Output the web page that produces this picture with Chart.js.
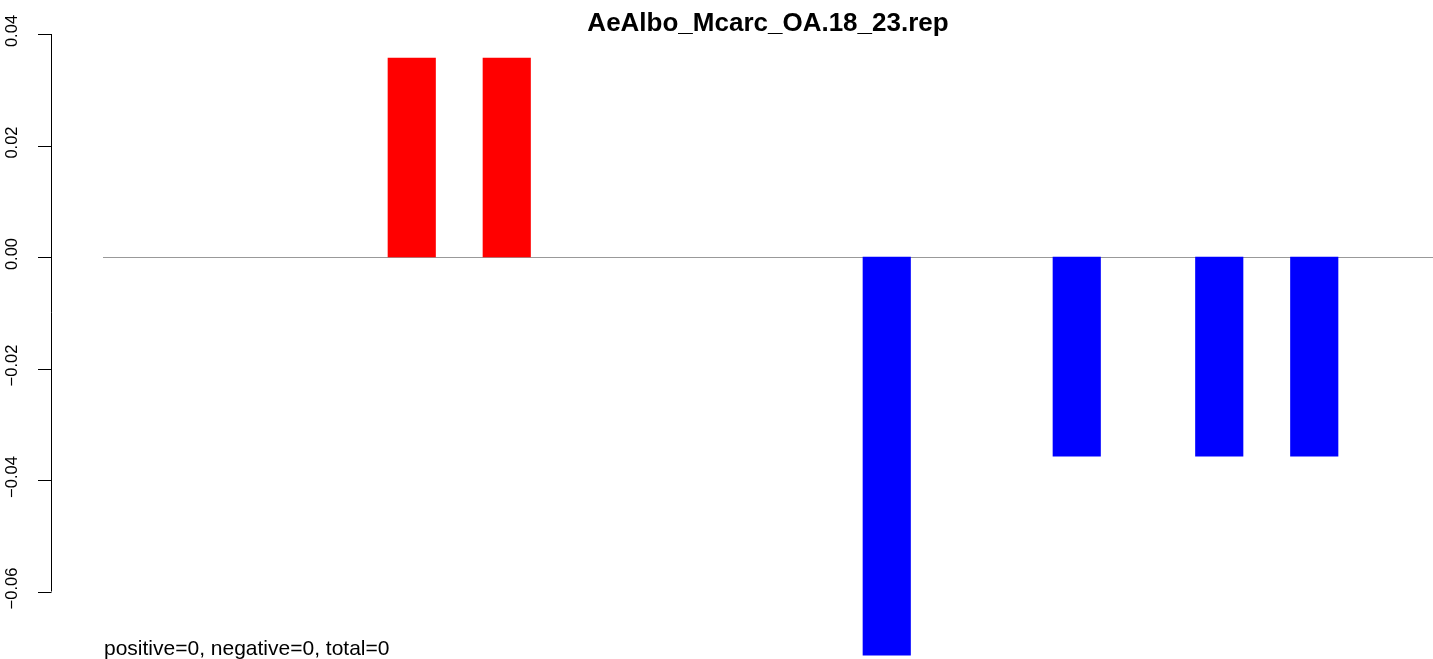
<!DOCTYPE html>
<html>
<head>
<meta charset="utf-8">
<script src="https://cdn.jsdelivr.net/npm/chart.js@4.4.1/dist/chart.umd.min.js"></script>
<style>
  html, body { margin: 0; padding: 0; background: #fff; overflow: hidden; }
</style>
</head>
<body>
<canvas id="myChart" width="1433" height="659"></canvas>
<script>
// 28 positions, most of them empty (null = no bar)
const positions = ['1','2','3','4','5','6','7','8','9','10','11','12','13','14',
                   '15','16','17','18','19','20','21','22','23','24','25','26','27','28'];
const scores = [null, null, null, null, null, null, 0.0357, null, 0.0357, null, null, null, null, null,
                null, null, -0.0714, null, null, null, -0.0357, null, null, -0.0357, null, -0.0357, null, null];
const yTicks = [0.04, 0.02, 0.00, -0.02, -0.04, -0.06];
const yLabels = ['0.04', '0.02', '0.00', '\u22120.02', '\u22120.04', '\u22120.06'];
const chartTitle = 'AeAlbo_Mcarc_OA.18_23.rep';
const footNote = 'positive=0, negative=0, total=0';

const rAxis = {
    id: 'rAxis',
    beforeDatasetsDraw(chart) {
        const ctx = chart.ctx;
        const y = chart.scales.y;
        const area = chart.chartArea;
        const y0 = Math.round(y.getPixelForValue(0)) + 0.5;
        ctx.save();
        ctx.strokeStyle = '#999999';
        ctx.lineWidth = 1.2;
        ctx.beginPath();
        ctx.moveTo(area.left, y0);
        ctx.lineTo(area.right, y0);
        ctx.stroke();
        ctx.restore();
    },
    afterDraw(chart) {
        const ctx = chart.ctx;
        const y = chart.scales.y;
        const axisX = 51.5;
        ctx.save();
        ctx.strokeStyle = '#000';
        ctx.lineWidth = 1;
        ctx.beginPath();
        ctx.moveTo(axisX, y.getPixelForValue(yTicks[0]));
        ctx.lineTo(axisX, y.getPixelForValue(yTicks[yTicks.length - 1]));
        yTicks.forEach(function (v) {
            const py = Math.round(y.getPixelForValue(v)) + 0.5;
            ctx.moveTo(38, py);
            ctx.lineTo(axisX, py);
        });
        ctx.stroke();

        // rotated tick labels, R style
        ctx.fillStyle = '#000';
        ctx.font = '16.5px "Liberation Sans", Arial, sans-serif';
        ctx.textAlign = 'center';
        ctx.textBaseline = 'middle';
        yTicks.forEach(function (v, i) {
            const py = y.getPixelForValue(v) - 3;
            ctx.save();
            ctx.translate(12, py);
            ctx.rotate(-Math.PI / 2);
            ctx.fillText(yLabels[i], 0, 0);
            ctx.restore();
        });

        ctx.font = 'bold 26px "Liberation Sans", Arial, sans-serif';
        ctx.textBaseline = 'alphabetic';
        ctx.fillText(chartTitle, (chart.chartArea.left + chart.chartArea.right) / 2, 31);

        ctx.font = '21px "Liberation Sans", Arial, sans-serif';
        ctx.textAlign = 'left';
        ctx.fillText(footNote, 104, 655);
        ctx.restore();
    }
};

new Chart(document.getElementById('myChart'), {
    type: 'bar',
    data: {
        labels: positions,
        datasets: [{
            label: chartTitle,
            data: scores,
            backgroundColor: scores.map(v => v > 0 ? '#ff0000' : '#0000ff'),
            borderWidth: 0,
            barPercentage: 1.0,
            categoryPercentage: 1.0
        }]
    },
    options: {
        responsive: false,
        animation: false,
        layout: { padding: { top: 34, right: 0, bottom: 0, left: 0 } },
        plugins: {
            legend: { display: false },
            title: { display: false },
            tooltip: { enabled: false }
        },
        scales: {
            x: { display: false },
            y: {
                min: -0.0721,
                max: 0.04,
                grid: { display: false },
                border: { display: false },
                ticks: { display: false },
                afterFit: function (scale) { scale.width = 103; }
            }
        }
    },
    plugins: [rAxis]
});
</script>
</body>
</html>
